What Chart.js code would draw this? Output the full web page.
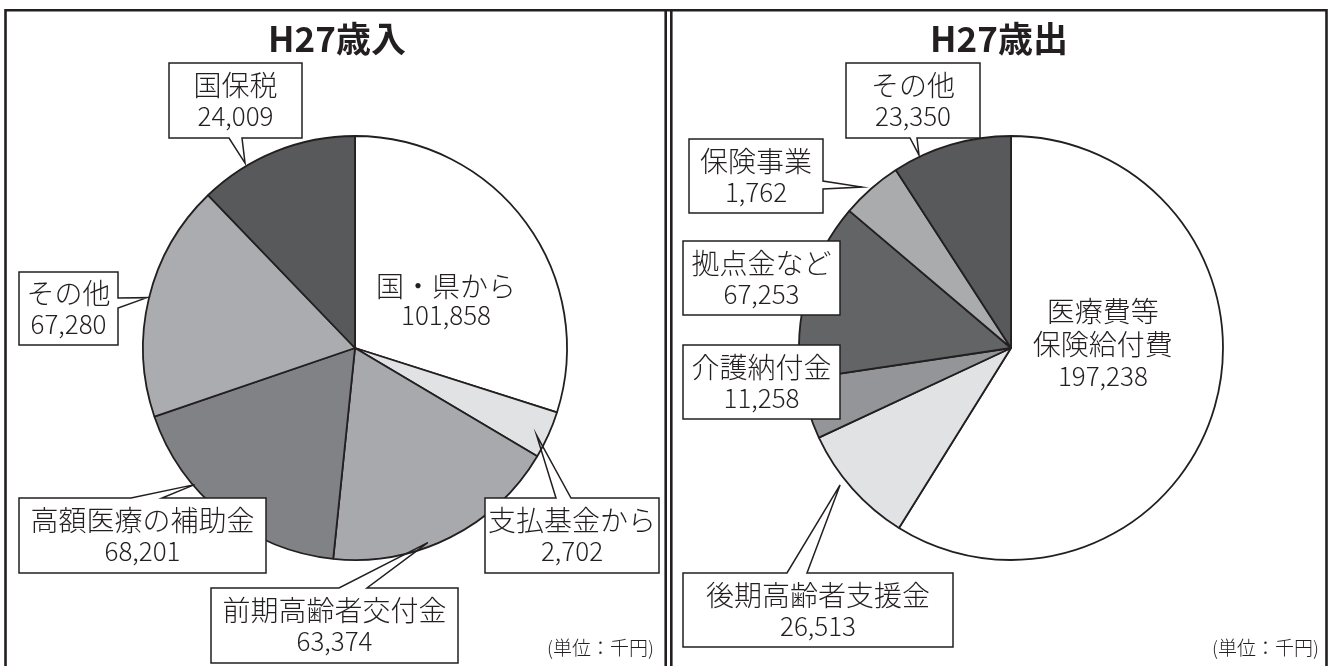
<!DOCTYPE html>
<html><head><meta charset="utf-8">
<script src="https://cdn.jsdelivr.net/npm/chart.js"></script>
<style>
html,body{margin:0;padding:0;background:#fff;}
#wrap{position:relative;width:1331px;height:666px;overflow:hidden;background:#fff;}
canvas{position:absolute;left:0;top:0;}
</style></head><body>
<div id="wrap"><canvas id="c1" width="1331" height="666"></canvas><canvas id="c2" width="1331" height="666"></canvas></div>
<script>
// ---------------- DATA ----------------
const unitNote = '(単位：千円)';

const revenueTitle = 'H27歳入';
const revenueCategories = ['国・県から', '支払基金から', '前期高齢者交付金', '高額医療の補助金', 'その他', '国保税'];
// printed amounts (千円)
const revenueAmounts = [101858, 2702, 63374, 68201, 67280, 24009];
// slice sizes as drawn in the picture (degrees of arc)
const revenueSliceDegrees = [107.7, 13.0, 65.2, 65.2, 65.0, 43.9];

const expenseTitle = 'H27歳出';
const expenseCategories = ['医療費等保険給付費', '後期高齢者支援金', '介護納付金', '拠点金など', '保険事業', 'その他'];
const expenseAmounts = [197238, 26513, 11258, 67253, 1762, 23350];
const expenseSliceDegrees = [211.9, 33.1, 16.5, 48.8, 16.8, 32.9];

// ---------------- STYLE ----------------
const INK = '#231f20';
const revenueColors = ['#ffffff', '#e1e2e4', '#a8a9ac', '#808285', '#abacaf', '#58595b'];
const expenseColors = ['#ffffff', '#e1e2e4', '#939598', '#636466', '#aaabad', '#58595b'];
const JP = '"Noto Sans CJK JP", "Noto Sans", sans-serif';
const NAME_FONT = '300 28px ' + JP;
const VALUE_FONT = '300 26px ' + JP;

// ---------------- LAYOUT (annotation boxes) ----------------
// box: [x1,y1,x2,y2]; side: where the pointer leaves the box; base: pointer base on that side;
// tip: position inside the slice (t = fraction along slice angle, r = fraction of radius)
const revenueCallouts = [
  {i: 5, lines: ['国保税'], box: [169, 63, 302, 138], side: 'bottom', base: [229, 242], tip: {t: 0.30, r: 1.015}},
  {i: 4, lines: ['その他'], box: [19, 272, 118, 345], side: 'right', base: [298, 308], tip: {t: 0.50, r: 1.01}},
  {i: 3, lines: ['高額医療の補助金'], box: [19, 498, 266, 573], side: 'top', base: [131, 162], tip: {t: 0.67, r: 0.994}},
  {i: 2, lines: ['前期高齢者交付金'], box: [211, 588, 458, 663], side: 'top', base: [339, 367], tip: {t: 0.595, r: 0.98}},
  {i: 1, lines: ['支払基金から'], box: [485, 498, 659, 573], side: 'top', base: [556, 571], tip: {t: 0.61, r: 0.95}},
  {i: 0, lines: ['国・県から'], inside: {t: 0.578, r: 0.485}, gap: 30}
];
const expenseCallouts = [
  {i: 5, lines: ['その他'], box: [846, 63, 980, 138], side: 'bottom', base: [910, 917], tip: {t: 0.225, r: 1.008}},
  {i: 4, lines: ['保険事業'], box: [689, 139, 823, 213], side: 'right', base: [181, 189], tip: {t: 0.41, r: 1.035}},
  {i: 3, lines: ['拠点金など'], box: [683, 241, 840, 315]},
  {i: 2, lines: ['介護納付金'], box: [683, 345, 840, 419]},
  {i: 1, lines: ['後期高齢者支援金'], box: [683, 573, 953, 647], side: 'top', base: [787, 807], tip: {t: 0.586, r: 1.033}},
  {i: 0, lines: ['医療費等', '保険給付費'], inside: {t: 0.41, r: 0.434}, gap: 33}
];

const fmt = v => v.toLocaleString('en-US');

function polarPoint(arc, t, r) {
  const p = arc.getProps(['x', 'y', 'startAngle', 'endAngle', 'outerRadius'], true);
  const a = p.startAngle + t * (p.endAngle - p.startAngle);
  return {x: p.x + Math.cos(a) * r * p.outerRadius, y: p.y + Math.sin(a) * r * p.outerRadius};
}

function drawLines(ctx, lines, cx, cy, gap) {
  const n = lines.length;
  ctx.fillStyle = INK;
  ctx.textAlign = 'center';
  ctx.textBaseline = 'middle';
  lines.forEach((ln, k) => {
    const y = cy + (k - (n - 1) / 2) * gap;
    ctx.font = (k === n - 1) ? VALUE_FONT : NAME_FONT;
    ctx.fillText(ln, cx, y + (k === n - 1 ? 0 : 1));
  });
}

function drawCallout(ctx, c, arc, amount) {
  const lines = c.lines.concat([fmt(amount)]);
  if (c.inside) {
    const p = polarPoint(arc, c.inside.t, c.inside.r);
    drawLines(ctx, lines, p.x, p.y, c.gap);
    return;
  }
  const [x1, y1, x2, y2] = c.box;
  ctx.save();
  ctx.fillStyle = '#ffffff';
  ctx.fillRect(x1, y1, x2 - x1, y2 - y1);
  ctx.strokeStyle = INK;
  ctx.lineWidth = 1.5;
  ctx.lineJoin = 'miter';
  ctx.beginPath();
  if (!c.side) {
    ctx.rect(x1, y1, x2 - x1, y2 - y1);
  } else {
    const tp = polarPoint(arc, c.tip.t, c.tip.r);
    if (c.side === 'bottom') {
      ctx.moveTo(x1, y1); ctx.lineTo(x2, y1); ctx.lineTo(x2, y2);
      ctx.lineTo(c.base[1], y2); ctx.lineTo(tp.x, tp.y); ctx.lineTo(c.base[0], y2);
      ctx.lineTo(x1, y2); ctx.closePath();
    } else if (c.side === 'top') {
      ctx.moveTo(x1, y2); ctx.lineTo(x1, y1); ctx.lineTo(c.base[0], y1);
      ctx.lineTo(tp.x, tp.y); ctx.lineTo(c.base[1], y1); ctx.lineTo(x2, y1);
      ctx.lineTo(x2, y2); ctx.closePath();
    } else if (c.side === 'right') {
      ctx.moveTo(x1, y1); ctx.lineTo(x2, y1); ctx.lineTo(x2, c.base[0]);
      ctx.lineTo(tp.x, tp.y); ctx.lineTo(x2, c.base[1]); ctx.lineTo(x2, y2);
      ctx.lineTo(x1, y2); ctx.closePath();
    }
  }
  ctx.stroke();
  drawLines(ctx, lines, (x1 + x2) / 2, (y1 + y2) / 2, 32);
  ctx.restore();
}

function makePlugin(title, titleX, callouts, amounts, noteRight, drawFrame) {
  return {
    id: 'annot',
    afterDatasetsDraw(chart) {
      const ctx = chart.ctx;
      const arcs = chart.getDatasetMeta(0).data;
      ctx.save();
      // title
      ctx.fillStyle = INK;
      ctx.font = '700 35px ' + JP;
      ctx.textAlign = 'center';
      ctx.textBaseline = 'middle';
      ctx.fillText(title, titleX, 39);
      // callouts
      callouts.forEach(c => drawCallout(ctx, c, arcs[c.i], amounts[c.i]));
      // unit note
      ctx.fillStyle = INK;
      ctx.font = '300 19px ' + JP;
      ctx.textAlign = 'right';
      ctx.textBaseline = 'middle';
      ctx.fillText(unitNote, noteRight, 648);
      // frame
      if (drawFrame) {
        ctx.strokeStyle = INK;
        ctx.lineWidth = 2.6;
        ctx.beginPath();
        ctx.moveTo(4.2, 10.3); ctx.lineTo(1327.8, 10.3);
        [5.5, 665.7, 671.3, 1326.5].forEach(x => { ctx.moveTo(x, 10.3); ctx.lineTo(x, 680); });
        ctx.stroke();
      }
      ctx.restore();
    }
  };
}

function pieConfig(categories, values, colors, padding, plugin) {
  return {
    type: 'pie',
    data: {
      labels: categories,
      datasets: [{data: values, backgroundColor: colors, borderColor: INK, borderWidth: 1.8, hoverOffset: 0, borderJoinStyle: 'bevel'}]
    },
    options: {
      responsive: false,
      animation: false,
      events: [],
      radius: 212,
      layout: {padding: padding},
      plugins: {legend: {display: false}, tooltip: {enabled: false}, title: {display: false}}
    },
    plugins: [plugin]
  };
}

new Chart(document.getElementById('c1'), pieConfig(
  revenueCategories, revenueSliceDegrees, revenueColors,
  {left: 0, right: 621, top: 30, bottom: 0},
  makePlugin(revenueTitle, 337, revenueCallouts, revenueAmounts, 654, true)
));
new Chart(document.getElementById('c2'), pieConfig(
  expenseCategories, expenseSliceDegrees, expenseColors,
  {left: 691, right: 0, top: 30, bottom: 0},
  makePlugin(expenseTitle, 999, expenseCallouts, expenseAmounts, 1319, false)
));
</script>
</body></html>
